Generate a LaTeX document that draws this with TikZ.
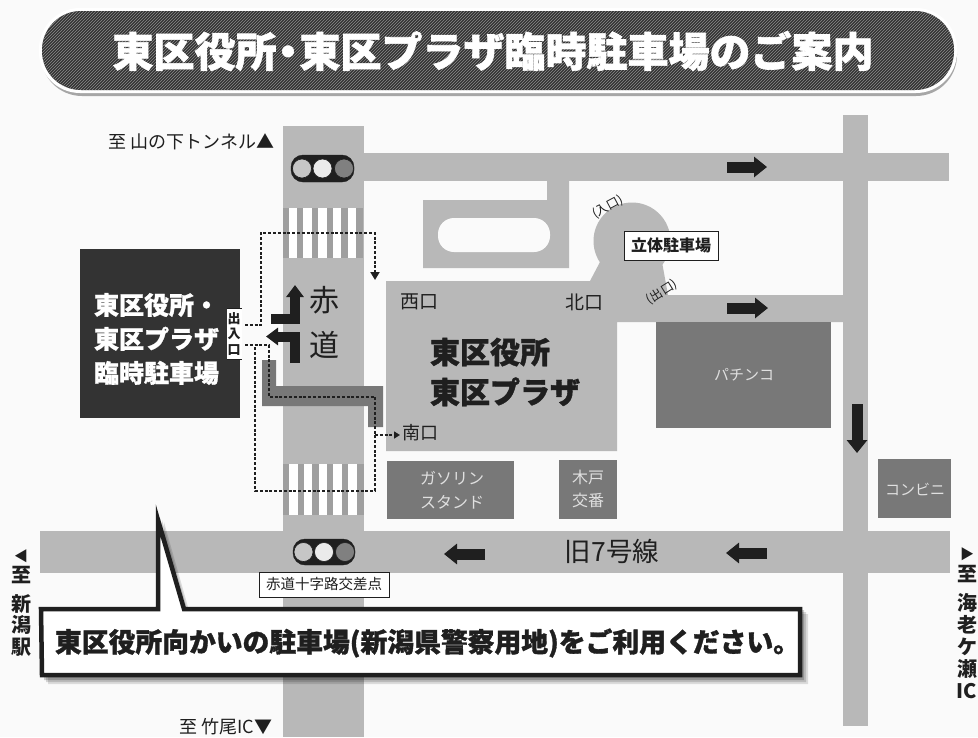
\documentclass[tikz,border=0pt]{standalone}
\usepackage{fontspec}
\usetikzlibrary{arrows.meta,patterns}
\setmainfont{Noto Sans CJK JP}
\newfontfamily\heavyjp[BoldFeatures={FakeBold=1.2}]{Noto Sans CJK JP}
\newfontfamily\titlejp[BoldFeatures={FakeBold=1.4}]{Noto Sans CJK JP}
\newfontfamily\whitejp[BoldFeatures={FakeBold=1}]{Noto Sans CJK JP}
\newcommand{\fs}[2]{\fontsize{#1}{#2}\selectfont}
\newcommand{\blackedge}{\special{pdf:code 0 0 0 RG}}
\definecolor{roadgray}{gray}{0.72}
\definecolor{blockgray}{gray}{0.47}
\definecolor{darkblock}{gray}{0.2}
\definecolor{ink}{gray}{0.12}
\tikzset{
 road/.style={fill=roadgray,draw=none},
 block/.style={fill=blockgray,draw=none},
 txt/.style={inner sep=0pt,outer sep=0pt,text=ink,align=center},
 onblock/.style={txt,text=white!88!black},
 labelbox/.style={txt,draw=ink,line width=1pt,fill=white},
 flowarrow/.style={draw=ink,line width=11pt,-{Triangle[width=20pt,length=13pt]}},
 turnarrow/.style={draw=ink,line width=10pt,-{Triangle[width=17pt,length=12pt]}},
 walkroute/.style={draw=ink,line width=1.8pt,dash pattern=on 3pt off 1.8pt},
 lamp/.style={draw=ink,line width=.6pt},
}
\begin{document}
\begin{tikzpicture}[x=1pt,y=-1pt]
\useasboundingbox (0,0) rectangle (978,737);
\fill[white!98!black] (0,0) rectangle (978,737);
% title
\fill[gray!70,rounded corners=41pt] (41,13) rectangle (957,96);
\fill[white,rounded corners=41pt] (39,8) rectangle (957,93);
\fill[black!80,rounded corners=39pt] (42,11) rectangle (954,90);
\fill[pattern=north east lines,pattern color=black!45,rounded corners=39pt] (42,11) rectangle (954,90);
\node[txt,text=white,font={\titlejp\bfseries\fs{41}{41}\blackedge}] (title) at (493,51) {東区役所\hspace{-9pt}・\hspace{-9pt}東区プラザ臨時駐車場のご案内};
% roads
\fill[road] (283,126) rectangle (364,737);
\fill[road] (364,153) rectangle (949,181);
\fill[road] (843,115) rectangle (868,726);
\fill[road] (40,531) rectangle (950,573);
% loop
\fill[road] (423,200) -- (547,200) -- (547,181) -- (569,181) -- (569,268) -- (423,268) -- cycle;
\fill[white!98!black,rounded corners=16pt] (438,218) rectangle (550,252);
% building + ramp
\fill[road] (632,241) circle (38.5);
\fill[road] (386,281) -- (590,281) -- (600,262) -- (662,262) -- (668,295) -- (843,295) -- (843,322) -- (617,322) -- (617,451) -- (386,451) -- cycle;
% blocks
\fill[block] (656,322) rectangle (831,428);
\fill[block] (387,461) rectangle (514,519);
\fill[block] (559,460) rectangle (617,519);
\fill[block] (878,459) rectangle (951,518);
\fill[darkblock] (80,249) rectangle (240,418);
% crossings
\fill[gray!75!white] (283,208) rectangle (363,258);
\fill[gray!75!white] (283,464) rectangle (364,515);
\foreach \sx in {293,307.5,322.5,337,352}{
  \fill[white] (\sx-4.3,208) rectangle (\sx+4.3,258);
  \fill[white] (\sx+.5-4.3,464) rectangle (\sx+.5+4.3,515);
}
% crossing band
\fill[blockgray] (262,360) -- (276,360) -- (276,386) -- (383,386) -- (383,427) -- (368,427) -- (368,406) -- (262,406) -- cycle;
% gate
\fill[white!98!black] (240,325) rectangle (283,345);
\node[txt,fill=white,minimum width=15pt,minimum height=51pt,font={\bfseries\fs{13}{15.5}}] (gate) at (234,334) {出\\入\\口};
\draw[ink,line width=1.5pt] (gate.north west) -- (gate.north east);
\draw[ink,line width=1.5pt] (gate.south west) -- (gate.south east);
% lights
\node[draw=ink,fill=ink,rounded corners=12pt,minimum width=63pt,minimum height=27pt,inner sep=0pt] (lighttop) at (322.5,168.5) {};
\fill[lamp,fill=gray!45] (302,168.5) circle (9.5);
\fill[lamp,fill=white!92!black] (322.5,168.5) circle (9.5);
\fill[lamp,fill=gray] (344,168.5) circle (9.5);
\node[draw=ink,fill=ink,rounded corners=12pt,minimum width=62pt,minimum height=26pt,inner sep=0pt] (lightbot) at (324,552) {};
\fill[lamp,fill=gray!45] (303.5,552) circle (9.5);
\fill[lamp,fill=white!92!black] (324,552) circle (9.5);
\fill[lamp,fill=gray] (345,552) circle (9.5);
% route coordinates
\coordinate (r1a) at (245,325); \coordinate (r1b) at (261,325); \coordinate (r1c) at (261,233);
\coordinate (r1d) at (375,233); \coordinate (r1e) at (375,280);
\coordinate (r2a) at (245,345); \coordinate (r2b) at (269,345); \coordinate (r2c) at (269,397);
\coordinate (r2d) at (375,397); \coordinate (r2e) at (375,435); \coordinate (r2f) at (400,435);
\coordinate (r3a) at (255,347); \coordinate (r3b) at (255,491); \coordinate (r3c) at (375,491); \coordinate (r3d) at (375,435);
\draw[walkroute,-{Triangle[width=9pt,length=8pt]}] (r1a) -- (r1b) -- (r1c) -- (r1d) -- (r1e);
\draw[walkroute] (r2a) -- (r2b) -- (r2c) -- (r2d) -- (r2e);
\draw[walkroute,-{Triangle[width=7pt,length=6pt]}] (r2e) -- (r2f);
\draw[walkroute] (r3a) -- (r3b) -- (r3c) -- (r3d);
% arrows
\coordinate (a1s) at (727,167); \coordinate (a1e) at (767,167);
\coordinate (a2s) at (727,308); \coordinate (a2e) at (768,308);
\coordinate (a3s) at (485,554); \coordinate (a3e) at (444,554);
\coordinate (a4s) at (767,553); \coordinate (a4e) at (726,553);
\coordinate (a5s) at (857,404); \coordinate (a5e) at (857,453);
\draw[flowarrow] (a1s) -- (a1e);
\draw[flowarrow] (a2s) -- (a2e);
\draw[flowarrow] (a3s) -- (a3e);
\draw[flowarrow] (a4s) -- (a4e);
\draw[flowarrow] (a5s) -- (a5e);
\coordinate (t1a) at (271,318.5); \coordinate (t1b) at (295,318.5); \coordinate (t1c) at (295,285);
\coordinate (t2a) at (294.5,363); \coordinate (t2b) at (294.5,336.5); \coordinate (t2c) at (266,336.5);
\draw[turnarrow] (t1a) -- (t1b) -- (t1c);
\draw[turnarrow] (t2a) -- (t2b) -- (t2c);
% road / map texts
\node[txt,font=\fs{18}{20}] (top) at (191.5,142) {至 山の下トンネル▲};
\node[txt,font=\fs{18}{20}] (bottom) at (226,727) {至 竹尾IC▼};
\node[txt,font=\fs{30}{45}] (akamichi) at (324.5,322.5) {赤\\道};
\node[txt,font=\fs{19}{20}] (west) at (419,302) {西口};
\node[txt,font=\fs{19}{20}] (north) at (584,302) {北口};
\node[txt,font=\fs{18}{20}] (south) at (420,433) {南口};
\node[txt,align=left,anchor=west,font={\heavyjp\bfseries\fs{30}{40}}] (main) at (430,372) {東区役所\\東区プラザ};
\node[txt,align=left,anchor=west,text=white,font={\whitejp\bfseries\fs{25}{34}\blackedge}] (lot) at (94,339) {東区役所・\\東区プラザ\\臨時駐車場};
\node[labelbox,minimum width=94pt,minimum height=29pt,font={\bfseries\fs{16}{18}}] (garage) at (671,245.5) {立体駐車場};
\node[txt,rotate=28,font=\fs{12.5}{14}] (in) at (608,207) {(入口)};
\node[txt,rotate=32,font=\fs{12.5}{14}] (out) at (662,292) {(出口)};
\node[onblock,font=\fs{15}{17}] (pachinko) at (744,375) {パチンコ};
\node[onblock,font=\fs{16}{24}] (gas) at (452,490) {ガソリン\\スタンド};
\node[onblock,font=\fs{16}{23}] (koban) at (588,489) {木戸\\交番};
\node[onblock,font=\fs{15}{17}] (conv) at (915,489) {コンビニ};
\node[txt,font=\fs{26.5}{28}] (route) at (612,551) {旧7号線};
\node[labelbox,minimum width=130pt,minimum height=25pt,line width=.8pt,font=\fs{14.5}{16}] (cross) at (324,584.5) {赤道十字路交差点};
\node[txt,font={\bfseries\fs{20}{21.5}}] (leftdest) at (21,603) {{\fontsize{14}{21.5}\selectfont ◀}\\至\\[7pt]新\\潟\\駅};
\node[txt,font={\bfseries\fs{20}{22}}] (rightdest) at (967,623) {{\fontsize{14}{22}\selectfont ▶}\\至\\[7pt]海\\老\\ケ\\瀬\\IC};
% callout
\foreach \d/\o in {7/.12,5/.15,3/.2}{
 \fill[black,opacity=\o] (41+\d,607+\d) -- (157+\d,607+\d) -- (157+\d,515+\d) -- (183+\d,607+\d) -- (801+\d,607+\d) -- (801+\d,677+\d) -- (41+\d,677+\d) -- cycle;
}
\draw[ink,fill=white,line width=4.5pt,miter limit=10] (41,609) -- (158,609) -- (158,520) -- (184,609) -- (800,609) -- (800,675) -- (42,675) -- cycle;
\node[txt,anchor=west,font={\heavyjp\bfseries\fs{26.8}{28}}] (notice) at (55,643) {東区役所向かいの駐車場(新潟県警察用地)をご利用ください。};
\end{tikzpicture}
\end{document}
